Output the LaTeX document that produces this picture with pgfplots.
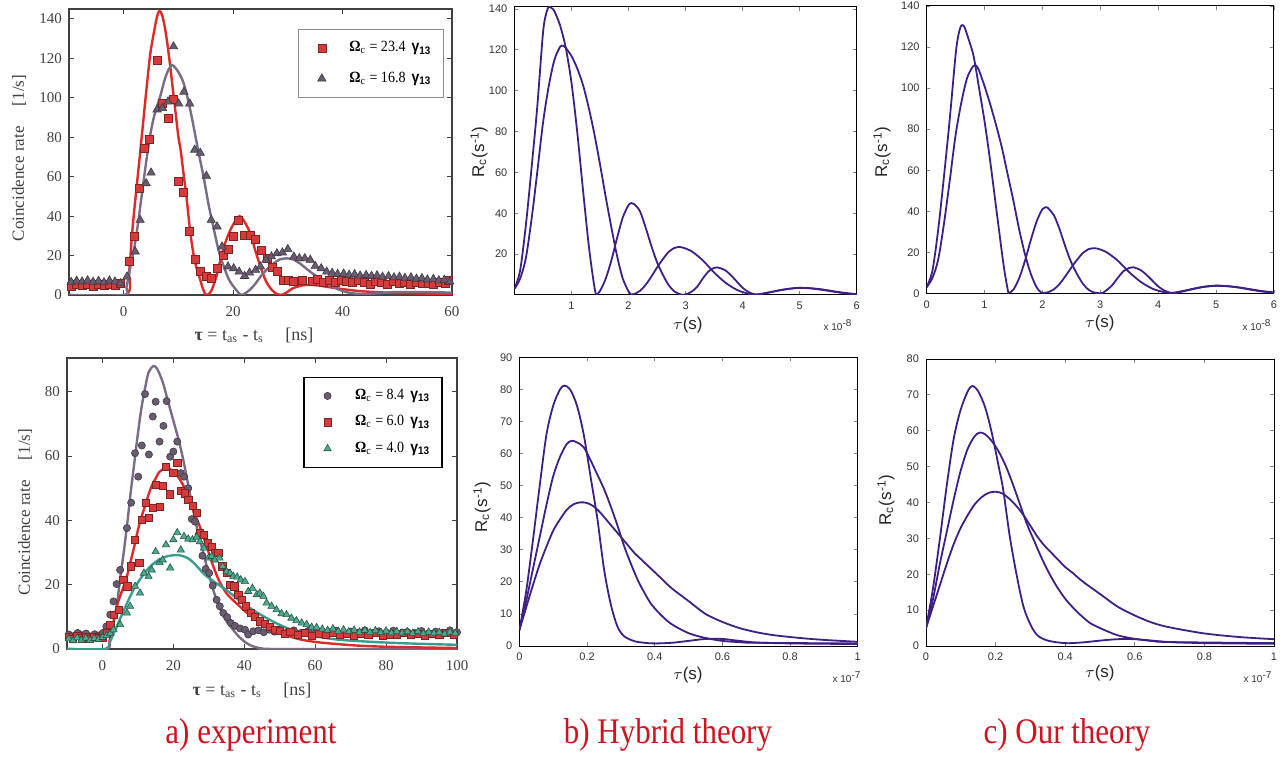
\documentclass[border=0pt]{standalone}
\usepackage{fontspec}
\setmainfont{Liberation Serif}
\setsansfont{Liberation Sans}
\newfontfamily\titlefont[FakeStretch=0.86]{Liberation Serif}
\newfontfamily\legfont[FakeStretch=0.9]{Liberation Serif}
\newfontfamily\legsans[FakeStretch=0.9]{Liberation Sans}
\usepackage{pgfplots}
\pgfplotsset{compat=1.18}

\definecolor{redc}{HTML}{E02A2A}
\definecolor{redm}{HTML}{D63A3A}
\definecolor{grayc}{HTML}{7B6B84}
\definecolor{graym}{HTML}{6A5C70}
\definecolor{tealc}{HTML}{3A9C8E}
\definecolor{tealm}{HTML}{4DAA90}
\definecolor{mat}{HTML}{3D1F85}
\definecolor{titlered}{HTML}{D0121E}

\newcommand{\leg}[1]{\textbf{Ω}\textsubscript{c} = #1\ \,{\legsans\bfseries γ\textsubscript{13}}}

\pgfplotsset{
  expt/.style={scale only axis, axis line style={draw=black!75,line width=0.6pt},
    tick align=inside, major tick length=2.5pt, tick style={black!75,line width=0.5pt},
    tick label style={font=\fontsize{7.5}{8}\selectfont, text=black!75},
    xticklabel style={yshift=-2pt},
    /pgf/number format/assume math mode=true,
    legend style={draw=black!45,line width=0.6pt,font=\legfont\fontsize{7.8}{9}\selectfont,
      inner xsep=4pt,inner ysep=4pt,row sep=3pt,column sep=4pt,cells={anchor=west}},
    legend image code/.code={\path (0,0) (15pt,0); \draw[#1] plot coordinates {(7.5pt,0)};},
    legend cell align=left},
  matl/.style={scale only axis, axis line style={line width=0.5pt},
    tick align=inside, major tick length=1.8pt, tick style={line width=0.4pt},
    tick label style={font=\sffamily\fontsize{5.5}{6}\selectfont, text=black!80},
    /pgf/number format/assume math mode=true, scaled ticks=false},
  sq/.style={only marks, mark=square*, mark size=2pt, mark options={fill=redm, draw=redm!60!black, line width=0.3pt}},
  tri/.style={only marks, mark=triangle*, mark size=2.4pt, mark options={fill=graym, draw=graym!60!black, line width=0.3pt}},
  circ/.style={only marks, mark=*, mark size=1.8pt, mark options={fill=graym, draw=graym!60!black, line width=0.3pt}},
  ttri/.style={only marks, mark=triangle*, mark size=2.1pt, mark options={fill=tealm, draw=tealm!50!black, line width=0.3pt}},
}

\begin{document}
\begin{tikzpicture}
\useasboundingbox (0,0) rectangle (643pt,378pt);

% ---- a) experiment, top
\begin{axis}[expt, at={(34.5pt,230.5pt)}, anchor=south west, width=191.5pt, height=143pt,
  xmin=-10, xmax=60, ymin=0, ymax=145, xtick={0,20,40,60}, ytick={0,20,...,140},
  legend style={at={(0.597,0.93)},anchor=north west,row sep=4.5pt}]
\addplot[sq] coordinates {(-9.6,4.5) (-8.6,5.2) (-7.6,4.8) (-6.6,5.5) (-5.6,4.6) (-4.6,5.3) (-3.6,4.9) (-2.6,5.6) (-1.6,4.7) (-0.6,5.8)
 (1.1,16.9) (2.0,29.6) (2.9,54) (3.8,74.4) (4.75,79) (6.1,119) (7.1,97) (8.1,89.6) (9.0,99) (10.05,57.8) (10.96,52) (12.06,32.5) (13.1,18) (14.0,11.8) (15.1,9.3) (16.0,8.5) (17.05,13.5) (18.2,20) (19.2,23.2) (20.1,30) (21.0,37.7) (22.0,30.4) (23.1,30.4) (24.1,28) (25.1,22.5) (26.2,18.6) (27.2,14) (28.0,11.8) (29.1,7.6) (30.1,7.2) (31.0,6.8) (32.6,7.6) (34.4,6.8) (35.4,7.8) (36.4,6.5) (37.5,7.2) (38.6,6.6) (39.7,7.5) (40.7,6.9) (41.8,6.2) (42.8,7.3) (43.9,6.6) (45.0,5.4) (46.0,6.8) (47.1,6.2) (48.1,5.6) (49.2,6.8) (50.3,5.8) (51.3,6.3) (52.4,5.2) (53.4,6.5) (54.5,5.7) (55.6,6.1) (56.6,5.5) (57.7,6.4) (58.7,5.9) (59.4,7.6)};
\addlegendentry{\leg{23.4}}
\addplot[tri] coordinates {(-9.6,6.5) (-8.6,7.2) (-7.6,6.8) (-6.6,7.4) (-5.6,6.6) (-4.6,7.1) (-3.6,6.4) (-2.6,7.3) (-1.6,6.8) (-0.6,5.9) (0.6,9.3) (2.1,22) (3.0,38) (4.1,56.6) (5.0,62) (6.1,94) (7.1,94.7) (8.1,98) (9.1,126) (10.05,97) (11.0,103) (12.06,97) (12.97,73.6) (14.0,72) (15.1,60.4) (16.0,38) (17.05,34.7) (17.97,24.5) (19.06,14.4) (20.1,13.5) (21.1,11.8) (22.1,9.6) (23.0,11.3) (24.1,12.7) (25.0,14.4) (26.0,17.8) (27.0,19.5) (28.0,21.1) (29.0,21.5) (30.0,23.2) (31.1,19.4) (32.1,18.6) (33.1,18.6) (34.1,17.8) (35.0,14.7) (36.1,13.5) (37.1,11.8) (38.1,11.2) (39.1,10.6) (40.2,10.8) (41.2,10.2) (42.2,10.5) (43.2,9.8) (44.3,10.1) (45.3,9.6) (46.3,9.9) (47.3,9.2) (48.4,9.5) (49.4,8.9) (50.4,9.2) (51.4,8.6) (52.5,8.9) (53.5,8.2) (54.5,8.5) (55.5,7.8) (56.6,8.1) (57.6,7.4) (58.6,7.7) (59.6,6.8)};
\addlegendentry{\leg{16.8}}
\addplot[redc, line width=1.2pt, smooth, forget plot] coordinates {(-10,0) (0.3,0) (1,12) (1.5,30) (2,45) (3,72) (4,100) (4.6,116) (5,125) (6,140) (6.5,144) (7,142) (7.5,136) (8,127) (8.5,116) (9,104) (9.5,92) (10,80) (10.4,73.6) (11,60) (11.5,49) (12.2,31) (13,17) (14,7.6) (14.5,3) (15.1,0) (16,2) (17,10) (17.7,18) (18.5,26) (19.5,33) (20.5,38) (21.2,40) (22,37.5) (23.2,31) (24,23) (25,14.4) (26,7) (27.1,2.5) (28,0.5) (28.7,0) (29.5,0.8) (31,3.5) (33,5) (35,5) (37,4.2) (40,3) (43,2) (46,1.5) (50,1) (60,0.5)};
\addplot[grayc, line width=1.2pt, smooth, forget plot] coordinates {(-10,0) (0,0) (0.5,4) (1.2,14) (2,25) (2.7,38) (3.5,55) (4.6,77) (5.5,90) (6.7,101) (7.7,111) (8.8,116.5) (10,113) (11,107) (12,96) (12.8,85) (13.7,72) (14.6,60) (15.5,46) (16.5,33) (17.4,22) (18.3,14.4) (19.2,8) (20.1,4.2) (21.3,0.3) (22,0.5) (23,2.5) (24,5.5) (25,9.3) (26,12.5) (27.4,16) (28.5,18) (29.8,18.6) (31,18) (32.2,16) (34,12) (36,8) (38,4.5) (40,2) (42,0.8) (44,0.5) (46,0.8) (48,1.2) (50,1.5) (55,1.5) (60,1.2)};
\end{axis}

% ---- a) experiment, bottom
\begin{axis}[expt, at={(33.5pt,53.5pt)}, anchor=south west, width=195pt, height=145.5pt,
  xmin=-10, xmax=100, ymin=0, ymax=90.5, xtick={0,20,...,100}, ytick={0,20,...,80},
  legend style={at={(0.606,0.936)},anchor=north west,draw=black,row sep=2.5pt}]
\addplot[circ] coordinates {(-9.5,4.5) (-8.2,4) (-7,5) (-5.8,4.3) (-4.6,4.8) (-3.4,3.9) (-2.2,4.6) (-1,4.2) (0.1,5) (1.1,7) (2.2,10.7) (3.1,14.8) (4.0,20.2) (4.98,24.6) (6.9,37.6) (8.1,45.5) (9.2,60.9) (10.1,53.6) (11.1,63.3) (12.0,79.3) (13.1,60.5) (14.2,72.3) (15.0,76.9) (16.1,64.5) (17.2,69.4) (18.1,77.1) (19.1,59.8) (20.0,61.4) (21.1,64.5) (22.1,54.7) (23.0,53.6) (24.2,50.0) (25.2,40.4) (26.1,39.6) (27.1,35.5) (28.2,29.0) (29.1,24.9) (30.1,23.6) (31.1,19.7) (32.2,15.3) (33.1,13.3) (34.1,11.2) (35.2,9.9) (36.2,8.1) (37.4,7.2) (38.8,6.4) (40.2,6.0) (41.1,4.5) (42.5,5.5) (44,5.8) (45.5,5.2) (47,6) (48.5,5.4) (50,5.9) (52,5.1) (54,5.8) (56,5.0) (58,5.6) (60,4.9) (62,5.5) (64,5.2) (66,5.7) (68,4.8) (70,5.4) (72,5.0) (74,5.8) (76,4.9) (78,5.5) (80,5.1) (82,5.7) (84,4.8) (86,5.3) (88,5.0) (90,5.6) (92,4.9) (94,5.4) (96,5.1) (98,5.8) (100,5.2)};
\addlegendentry{\leg{8.4}}
\addplot[sq, mark size=1.8pt] coordinates {(-9.5,3.8) (-8.3,3.2) (-7.1,4) (-5.9,3.3) (-4.7,3.9) (-3.5,3.1) (-2.3,3.7) (-1.1,3.4) (0.1,3.6) (1.2,5) (2.2,7.5) (3.1,10.7) (4.5,12.2) (5.9,21.5) (7.0,19.5) (8.1,25.7) (9.2,34) (10.4,26.7) (11.1,40.2) (12.2,45.5) (13.1,40.7) (14.2,43.8) (15.1,51) (16.1,44.3) (17.0,50.7) (17.9,56.7) (19.1,48.1) (20.0,54.7) (21.1,57.8) (22.1,49.3) (23.3,48.4) (24.2,46.4) (25.4,44.5) (26.6,42.4) (27.5,36.2) (28.6,35.5) (29.6,33.1) (30.8,31.9) (31.7,29.8) (32.7,29.8) (33.8,25.7) (35.0,23.6) (36.0,20.0) (37.2,19.5) (38.3,16.9) (39.2,15.3) (40.5,13.3) (41.8,11.2) (43.0,9.9) (44.4,8.6) (45.8,7.8) (47.2,7.0) (48.6,6.0) (50,5.6) (51.5,4.8) (53,5.3) (55,4.4) (57,5.0) (59,4.2) (61,4.8) (63,4.5) (65,5.1) (67,4.3) (69,4.7) (71,4.1) (73,4.9) (75,4.4) (77,5.0) (79,4.2) (81,4.6) (83,4.3) (85,5.0) (87,4.4) (89,4.8) (91,4.1) (93,4.7) (95,4.5) (97,5.0) (99,4.3)};
\addlegendentry{\leg{6.0}}
\addplot[ttri] coordinates {(-9.5,3.2) (-8.3,2.6) (-7.1,3.5) (-5.9,2.8) (-4.7,3.4) (-3.5,2.7) (-2.3,3.3) (-1.1,3) (0.1,3.6) (1.2,4.2) (2.2,4.8) (3.1,6) (5.0,7.6) (6.9,11.2) (7.8,13.3) (9.2,19.5) (10.6,17.4) (11.7,23.6) (13.0,22.6) (13.9,24.6) (15.0,30.3) (16.1,26.9) (17.0,27.7) (17.9,32.4) (19.1,25.2) (20.0,34) (21.1,36.2) (22.1,30.8) (23.0,35) (24.2,34.2) (25.4,34) (26.6,34.8) (27.5,33.4) (28.6,31.4) (29.9,28.3) (30.8,28.8) (31.7,27.7) (33.0,28.3) (33.9,25.7) (35.0,24.1) (36.0,23.6) (36.9,22.6) (38.0,22.4) (39.0,21.5) (40.2,21) (41.1,17.9) (42.3,18.9) (43.5,16.9) (44.4,17.4) (45.4,16.4) (46.3,14.3) (47.7,13.3) (49.1,12.2) (50.5,11.0) (51.9,10.7) (53.3,9.6) (54.7,8.8) (56.2,8.1) (57.6,7.6) (59.0,6.8) (60.4,6.7) (62,6.2) (63.5,5.8) (65,6.3) (66.5,5.5) (68,6.0) (69.5,5.4) (71,5.9) (72.5,5.3) (74,5.8) (75.5,5.2) (77,5.7) (78.5,5.1) (80,5.6) (81.5,5.0) (83,5.5) (84.5,5.0) (86,5.4) (87.5,4.9) (89,5.4) (90.5,4.8) (92,5.3) (93.5,4.9) (95,5.2) (96.5,4.7) (98,5.3) (99.5,4.9)};
\addlegendentry{\leg{4.0}}
\addplot[grayc, line width=1.2pt, smooth, forget plot] coordinates {(-10,0) (1,0) (2.2,3.8) (3,8) (4,13) (5,22) (6,30) (7,39) (8,49) (9,58) (10,67) (11,75) (12,81) (13,86) (14.4,88) (15.5,87) (17,83) (18.5,77) (20,71) (21.5,65) (22.8,58.8) (24.2,51) (25.6,43.2) (27,36) (28.5,29.7) (30.3,22) (32.2,15.2) (34.5,9.5) (36.9,5.9) (38.8,3.5) (40.7,1.8) (42.5,0.8) (45,0.2) (50,0) (100,0)};
\addplot[redc, line width=1.2pt, smooth, forget plot] coordinates {(-10,0) (1,0) (2,2.5) (3,7.5) (4,13) (5,16.5) (6,19.5) (7,23) (8,27.5) (9,32) (10,37) (11,41) (12,44.5) (13,48) (14,51) (15,53) (16,55) (17.7,56.3) (19,56) (21,54) (22.5,51.5) (24,48) (26,42) (27.5,38) (29.5,31.5) (31.3,25.6) (33,21) (35,17.3) (37,15) (39,13) (41,11) (43.5,9) (46,7) (50,5) (55,3.2) (60,2.2) (70,1.2) (80,0.7) (100,0.3)};
\addplot[tealc, line width=1.2pt, smooth, forget plot] coordinates {(-10,0) (0.8,0) (2,2) (4,6.9) (6,12) (8.7,18.3) (11,22.3) (13.4,25.6) (16,27.8) (18.5,28.9) (21.4,29.2) (24,28.3) (26,26.5) (28.5,23.5) (31,21.3) (35,18.3) (38.5,15.2) (42.5,12.1) (46,9.8) (50,7.5) (55,5.3) (60,4) (65,3.1) (70,2.6) (80,2) (90,1.6) (100,1.3)};
\end{axis}

% ---- b) hybrid theory, top
\begin{axis}[matl, at={(257.2pt,230.5pt)}, anchor=south west, width=171.2pt, height=144pt,
  xmin=0, xmax=6, ymin=0, ymax=141, xtick={1,...,6}, ytick={20,40,...,140}]
\addplot[mat, line width=0.9pt, smooth] coordinates {(0,3) (0.1,12) (0.2,34) (0.3,62) (0.4,92) (0.5,128) (0.55,137) (0.6,141) (0.65,140.5) (0.7,139) (0.8,132) (0.9,121) (1.0,104) (1.1,80) (1.2,52) (1.3,25) (1.38,8) (1.43,0.5) (1.5,2) (1.6,8) (1.7,17) (1.8,28) (1.9,38) (2.0,44) (2.05,45) (2.1,44.5) (2.2,41) (2.3,33) (2.4,24) (2.5,16) (2.6,10) (2.7,5) (2.8,1.8) (2.9,0.4) (2.95,0.1) (3.0,0.3) (3.1,1.5) (3.2,4) (3.3,8) (3.4,11.5) (3.5,13.3) (3.55,13.5) (3.6,13.2) (3.7,12) (3.8,9.5) (3.9,6.5) (4.0,3.5) (4.1,1.5) (4.2,0.4) (4.3,0.2) (4.4,0.8) (4.6,2) (4.8,3) (5.0,3.5) (5.2,3.2) (5.4,2.5) (5.6,1.6) (5.8,0.8) (6.0,0.3)};
\addplot[mat, line width=0.9pt, smooth] coordinates {(0,3) (0.1,8) (0.2,18) (0.3,37) (0.4,60) (0.5,84) (0.6,102) (0.7,115) (0.8,121.5) (0.85,122) (0.9,121) (1.0,117) (1.1,111) (1.2,103) (1.3,92) (1.4,79) (1.5,64) (1.6,48) (1.7,33) (1.8,19) (1.9,8) (2.0,1.8) (2.05,0.2) (2.1,0.5) (2.2,2) (2.3,5) (2.4,9) (2.5,13.5) (2.6,17.5) (2.7,21) (2.8,23) (2.87,23.5) (2.95,23.2) (3.1,21.5) (3.3,17) (3.5,11) (3.7,6) (3.9,2.5) (4.1,0.6) (4.2,0.2) (4.3,0.5) (4.5,1.5) (4.7,2.6) (4.9,3.3) (5.0,3.5) (5.2,3.3) (5.4,2.7) (5.6,1.8) (5.8,1) (6.0,0.4)};
\end{axis}

% ---- c) our theory, top
\begin{axis}[matl, at={(463.3pt,231.3pt)}, anchor=south west, width=173.7pt, height=143.7pt,
  xmin=0, xmax=6, ymin=0, ymax=140, xtick={0,...,6}, ytick={0,20,...,140}]
\addplot[mat, line width=0.9pt, smooth] coordinates {(0,3) (0.1,11) (0.2,31) (0.3,57) (0.4,85) (0.5,116) (0.55,126) (0.6,130.5) (0.65,130) (0.7,126) (0.8,117) (0.86,108) (0.9,101) (1.0,84) (1.1,64) (1.2,42) (1.3,20) (1.35,10) (1.4,2) (1.42,0.3) (1.5,1.9) (1.6,7.5) (1.7,16) (1.8,26) (1.9,35) (2.0,41) (2.07,42) (2.1,41.5) (2.2,38) (2.3,31) (2.4,22.5) (2.5,15) (2.6,9.3) (2.7,4.7) (2.8,1.7) (2.9,0.4) (2.98,0.1) (3.05,0.3) (3.1,1.4) (3.2,3.8) (3.3,7.5) (3.4,10.8) (3.5,12.4) (3.57,12.7) (3.6,12.5) (3.7,11.3) (3.8,9) (3.9,6.2) (4.0,3.4) (4.1,1.5) (4.2,0.4) (4.3,0.2) (4.4,0.8) (4.6,2.1) (4.8,3.3) (5.0,3.8) (5.2,3.5) (5.4,2.8) (5.6,1.8) (5.8,0.9) (6.0,0.4)};
\addplot[mat, line width=0.9pt, smooth] coordinates {(0,3) (0.1,7.5) (0.2,16.5) (0.3,34) (0.4,55) (0.5,77) (0.6,93) (0.7,105) (0.8,110.5) (0.85,111) (0.9,109) (1.0,101) (1.1,92) (1.2,82) (1.3,71) (1.4,58) (1.5,45) (1.6,31) (1.7,19) (1.8,9.5) (1.9,3) (1.98,0.4) (2.05,0.3) (2.1,0.6) (2.2,2) (2.3,4.7) (2.4,8.5) (2.5,12.6) (2.6,16.4) (2.7,19.7) (2.8,21.6) (2.87,22) (2.95,21.8) (3.1,20.2) (3.3,16) (3.5,10.3) (3.7,5.6) (3.9,2.3) (4.1,0.6) (4.2,0.2) (4.3,0.5) (4.5,1.6) (4.7,2.8) (4.9,3.5) (5.0,3.7) (5.2,3.5) (5.4,2.9) (5.6,2) (5.8,1.1) (6.0,0.5)};
\end{axis}

% ---- b) hybrid theory, bottom
\begin{axis}[matl, at={(259.7pt,55pt)}, anchor=south west, width=169.2pt, height=144.3pt,
  xmin=0, xmax=1, ymin=0, ymax=90, xtick={0,0.2,...,1}, ytick={0,10,...,90}]
\addplot[mat, line width=0.9pt, smooth] coordinates {(0,5) (0.02,17) (0.04,33) (0.06,50) (0.08,66) (0.1,75) (0.12,80) (0.133,81.2) (0.15,80) (0.17,75) (0.19,66) (0.21,53) (0.23,40) (0.25,24) (0.27,13) (0.29,6) (0.31,3) (0.34,1.5) (0.37,1) (0.4,0.8) (0.45,1) (0.5,1.6) (0.55,2.2) (0.6,2.2) (0.65,1.6) (0.7,1.1) (0.8,0.8) (1.0,0.6)};
\addplot[mat, line width=0.9pt, smooth] coordinates {(0,5) (0.02,14) (0.04,24) (0.06,34) (0.08,44) (0.1,53) (0.12,59) (0.14,63) (0.155,64) (0.17,63.5) (0.19,62) (0.21,58) (0.23,53.5) (0.25,49) (0.27,43.5) (0.29,37.5) (0.31,31) (0.33,25.5) (0.35,20.5) (0.37,16.5) (0.39,13) (0.42,9.5) (0.45,6.8) (0.5,4) (0.55,2.5) (0.6,1.6) (0.65,1.2) (0.7,1) (1.0,0.8)};
\addplot[mat, line width=0.9pt, smooth] coordinates {(0,5) (0.02,12) (0.04,19) (0.06,25.5) (0.08,31) (0.1,36) (0.12,39.5) (0.14,42.5) (0.16,44.2) (0.18,44.8) (0.2,44.6) (0.22,43.5) (0.24,41.5) (0.26,39) (0.28,36.5) (0.3,34) (0.32,31.5) (0.34,29) (0.36,27) (0.38,25) (0.4,23) (0.42,21) (0.45,18) (0.5,14) (0.55,10) (0.6,7.5) (0.65,5.6) (0.7,4.3) (0.75,3.4) (0.8,2.8) (0.85,2.3) (0.9,1.9) (0.95,1.6) (1.0,1.3)};
\end{axis}

% ---- c) our theory, bottom
\begin{axis}[matl, at={(463pt,55pt)}, anchor=south west, width=174pt, height=143.5pt,
  xmin=0, xmax=1, ymin=0, ymax=80, xtick={0,0.2,...,1}, ytick={0,10,...,80}]
\addplot[mat, line width=0.9pt, smooth] coordinates {(0,5) (0.02,16) (0.04,30) (0.06,45) (0.08,58) (0.1,66) (0.12,71) (0.133,72.5) (0.15,71) (0.17,66.5) (0.19,59) (0.21,49.5) (0.222,43.5) (0.24,31) (0.26,20) (0.28,11) (0.3,6) (0.32,3) (0.35,1.5) (0.4,0.8) (0.45,1) (0.5,1.5) (0.55,1.9) (0.6,1.9) (0.65,1.5) (0.7,1.1) (0.8,0.8) (1.0,0.6)};
\addplot[mat, line width=0.9pt, smooth] coordinates {(0,5) (0.02,13) (0.04,23) (0.06,32) (0.08,41) (0.1,49) (0.12,55) (0.14,58.5) (0.155,59.5) (0.17,59) (0.19,57) (0.21,54) (0.23,50) (0.25,45) (0.27,39.5) (0.29,34) (0.31,29.5) (0.33,25) (0.35,21) (0.37,17.5) (0.39,14.5) (0.41,12) (0.44,9) (0.47,6.5) (0.5,5) (0.55,3) (0.6,2) (0.65,1.4) (0.7,1.1) (1.0,0.8)};
\addplot[mat, line width=0.9pt, smooth] coordinates {(0,5) (0.02,11) (0.04,17) (0.06,23) (0.08,28.5) (0.1,33) (0.12,36.5) (0.14,39.5) (0.16,41.5) (0.18,42.7) (0.2,43) (0.22,42.5) (0.24,41) (0.26,39) (0.28,36.5) (0.3,33.5) (0.32,30.5) (0.34,28) (0.36,26) (0.38,24) (0.4,22) (0.42,20.5) (0.45,18) (0.5,14.5) (0.55,11) (0.6,8.5) (0.65,6.5) (0.7,5.2) (0.8,3.5) (0.9,2.5) (1.0,1.9)};
\end{axis}

% ---- labels
\begin{scope}[every node/.style={text=black!75}]
\node[rotate=90, font=\fontsize{8.5}{9}\selectfont] at (9.5pt,299pt) {Coincidence rate\hspace{1.2em}[1/s]};
\node[rotate=90, font=\fontsize{8.5}{9}\selectfont] at (12.5pt,122pt) {Coincidence rate\hspace{1.2em}[1/s]};
\node[font=\fontsize{9}{10}\selectfont] at (127pt,210.5pt) {\textbf{τ} = t\textsubscript{as} - t\textsubscript{s}\hspace{1.2em}[ns]};
\node[font=\fontsize{9}{10}\selectfont] at (126pt,33pt) {\textbf{τ} = t\textsubscript{as} - t\textsubscript{s}\hspace{1.2em}[ns]};
\end{scope}
\begin{scope}[every node/.style={text=black!85, font=\sffamily\fontsize{8.5}{9}\selectfont}]
\node[rotate=90] at (239.5pt,302pt) {R\textsubscript{c}(s\textsuperscript{-1})};
\node[rotate=90] at (441pt,302pt) {R\textsubscript{c}(s\textsuperscript{-1})};
\node[rotate=90] at (241pt,124.5pt) {R\textsubscript{c}(s\textsuperscript{-1})};
\node[rotate=90] at (443pt,128pt) {R\textsubscript{c}(s\textsuperscript{-1})};
\node at (344pt,215.5pt) {$\tau$(s)};
\node at (550pt,216.5pt) {$\tau$(s)};
\node at (344pt,40.5pt) {$\tau$(s)};
\node at (550pt,41.5pt) {$\tau$(s)};
\end{scope}
\begin{scope}[every node/.style={text=black!80, font=\sffamily\fontsize{5}{6}\selectfont}]
\node at (419pt,215.5pt) {x 10\textsuperscript{-8}};
\node at (628.5pt,215.5pt) {x 10\textsuperscript{-8}};
\node at (423.5pt,39.5pt) {x 10\textsuperscript{-7}};
\node at (629pt,39.5pt) {x 10\textsuperscript{-7}};
\end{scope}
\begin{scope}[every node/.style={text=titlered, font=\titlefont\fontsize{18}{20}\selectfont}]
\node at (125.5pt,10.5pt) {a) experiment};
\node at (334pt,10.5pt) {b) Hybrid theory};
\node at (533.5pt,10.5pt) {c) Our theory};
\end{scope}
\end{tikzpicture}
\end{document}
